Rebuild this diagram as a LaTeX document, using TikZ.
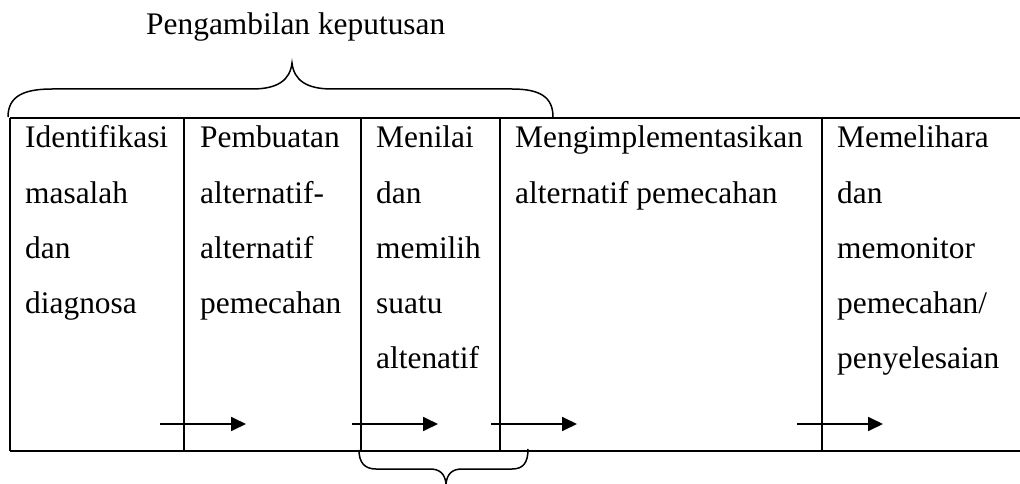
\documentclass[tikz,border=0pt]{standalone}
\usepackage{fontspec}
\setmainfont{Liberation Serif}
\usetikzlibrary{arrows.meta}
\begin{document}
\begin{tikzpicture}[x=1pt,y=-1pt,
  txt/.style={anchor=base west,inner sep=0pt,font=\fontsize{31.4}{40}\selectfont},
  rule/.style={line width=1.8pt},
  flow/.style={line width=1.8pt,-{Triangle[length=15pt,width=14pt]}},
  brace/.style={line width=1.5pt}]
\useasboundingbox (0,0) rectangle (1020,484);
% table frame
\coordinate (TL) at (10,118);
\coordinate (TR) at (1020,118);
\coordinate (BL) at (10,451);
\coordinate (BR) at (1020,451);
\draw[rule] (TL) -- (TR);
\draw[rule] (BL) -- (BR);
\draw[rule] (TL) -- (BL);
\foreach \x/\n in {184/a,361/b,500/c,822/d}{
  \coordinate (t\n) at (\x,118);
  \coordinate (b\n) at (\x,451);
  \draw[rule] (t\n) -- (b\n);
}
% title
\node[txt] (title) at (146,35) {Pengambilan keputusan};
% column 1
\node[txt] (c1r1) at (25,148) {Identifikasi};
\node[txt] (c1r2) at (25,203) {masalah};
\node[txt] (c1r3) at (25,258) {dan};
\node[txt] (c1r4) at (25,313) {diagnosa};
% column 2
\node[txt] (c2r1) at (200,148) {Pembuatan};
\node[txt] (c2r2) at (200,203) {alternatif-};
\node[txt] (c2r3) at (200,258) {alternatif};
\node[txt] (c2r4) at (200,313) {pemecahan};
% column 3
\node[txt] (c3r1) at (376,148) {Menilai};
\node[txt] (c3r2) at (376,203) {dan};
\node[txt] (c3r3) at (376,258) {memilih};
\node[txt] (c3r4) at (376,313) {suatu};
\node[txt] (c3r5) at (376,368) {altenatif};
% column 4
\node[txt] (c4r1) at (515,148) {Mengimplementasikan};
\node[txt] (c4r2) at (515,203) {alternatif pemecahan};
% column 5
\node[txt] (c5r1) at (837,148) {Memelihara};
\node[txt] (c5r2) at (837,203) {dan};
\node[txt] (c5r3) at (837,258) {memonitor};
\node[txt] (c5r4) at (837,313) {pemecahan/};
\node[txt] (c5r5) at (837,368) {penyelesaian};
% arrows
\coordinate (a1s) at (160,424); \coordinate (a1e) at (246,424);
\coordinate (a2s) at (352,424); \coordinate (a2e) at (438,424);
\coordinate (a3s) at (491,424); \coordinate (a3e) at (577,424);
\coordinate (a4s) at (797,424); \coordinate (a4e) at (883,424);
\draw[flow] (a1s) -- (a1e);
\draw[flow] (a2s) -- (a2e);
\draw[flow] (a3s) -- (a3e);
\draw[flow] (a4s) -- (a4e);
% top brace
\coordinate (tb1) at (8,117);
\coordinate (tbtip) at (292,63);
\coordinate (tb2) at (553,117);
\draw[brace] (tb1) .. controls (8,96) and (24,89) .. (52,89) -- (252,89)
  .. controls (278,89) and (290,80) .. (tbtip)
  .. controls (294,80) and (306,89) .. (332,89) -- (512,89)
  .. controls (540,89) and (553,97) .. (tb2);
% bottom brace
\coordinate (bb1) at (359,450);
\coordinate (bbtip) at (446,484);
\coordinate (bb2) at (528,449);
\draw[brace] (bb1) .. controls (359,463) and (365,469) .. (376,469) -- (430,469)
  .. controls (440,469) and (445,474) .. (bbtip)
  .. controls (447,474) and (452,469) .. (462,469) -- (512,469)
  .. controls (523,469) and (528,463) .. (bb2);
\end{tikzpicture}
\end{document}
